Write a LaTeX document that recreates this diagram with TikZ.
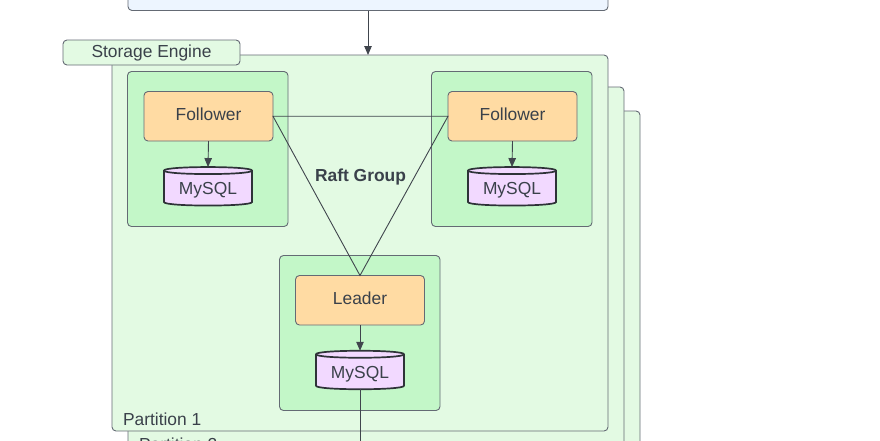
\documentclass[tikz,border=0pt]{standalone}
\usepackage{fontspec}
\setmainfont{Liberation Sans}
\usetikzlibrary{arrows.meta,calc}
\definecolor{txt}{HTML}{3A414A}
\definecolor{edge}{HTML}{646A74}
\definecolor{linec}{HTML}{40454D}
\definecolor{dbedge}{HTML}{2E3338}
\definecolor{topfill}{HTML}{EDF5FF}
\definecolor{partfill}{HTML}{E3FAE3}
\definecolor{boxfill}{HTML}{C3F7C8}
\definecolor{nodefill}{HTML}{FFDBA3}
\definecolor{dbfill}{HTML}{F2D9FF}
\newcommand\dbshape[1]{%
  \fill[dbfill] ($(#1.north west)+(0,3.5)$) -- ($(#1.south west)+(0,-3.5)$)
    .. controls +(0,4.67) and +(0,4.67) .. ($(#1.south east)+(0,-3.5)$)
    -- ($(#1.north east)+(0,3.5)$)
    .. controls +(0,-4.67) and +(0,-4.67) .. ($(#1.north west)+(0,3.5)$) -- cycle;
  \draw[dbline] ($(#1.north west)+(0,3.5)$) -- ($(#1.south west)+(0,-3.5)$)
    .. controls +(0,4.67) and +(0,4.67) .. ($(#1.south east)+(0,-3.5)$)
    -- ($(#1.north east)+(0,3.5)$)
    .. controls +(0,-4.67) and +(0,-4.67) .. ($(#1.north west)+(0,3.5)$) -- cycle;
  \draw[dbline] ($(#1.north west)+(0,3.5)$)
    .. controls +(0,4.67) and +(0,4.67) .. ($(#1.north east)+(0,3.5)$);
}
\begin{document}
\begin{tikzpicture}[x=1pt,y=-1pt,
  font=\fontsize{17.4}{20}\selectfont, text=txt,
  every node/.style={inner sep=0pt, outer sep=0pt, text height=12.5pt, text depth=4pt},
  frame/.style={draw=edge, line width=0.9pt, rounded corners=4pt, anchor=north west},
  topbox/.style={frame, fill=topfill, minimum width=480pt, minimum height=40pt},
  part/.style={frame, fill=partfill, minimum width=496pt},
  tab/.style={frame, fill=partfill, minimum width=177pt, minimum height=25pt},
  holder/.style={frame, fill=boxfill, minimum width=160.5pt, minimum height=155pt},
  role/.style={frame, fill=nodefill, minimum width=129pt, minimum height=49.5pt},
  dbnode/.style={minimum width=88pt, minimum height=38.5pt},
  dbline/.style={draw=dbedge, line width=1.7pt},
  arr/.style={draw=linec, line width=0.9pt, -{Triangle[length=9pt,width=7.5pt]}},
  link/.style={draw=linec, line width=0.9pt},
  lbl/.style={anchor=base west}]
\useasboundingbox (0,0) rectangle (880,440);
\clip (0,0) rectangle (880,440);

% top box
\node[topbox] (top) at (128,-29.5) {};

% stacked partitions
\node[part, minimum height=400pt] (p3) at (144,111) {};
\node[part, minimum height=400pt] (p2) at (128,87) {};
\node[lbl] (p2l) at (139,450) {Partition 2};
\node[part, minimum height=376pt] (p1) at (112,55) {};
\node[lbl] (p1l) at (123,425) {Partition 1};

% storage engine tab
\node[tab] (se) at (63,40) {};
\node (set) at ($(se.center)+(0,1)$) {Storage Engine};

% containers
\node[holder] (c1) at (127.5,71.5) {};
\node[holder] (c2) at (431.5,71.5) {};
\node[holder] (c3) at (279.5,255.5) {};

% roles
\node[role] (f1) at (144,91.5) {};
\node (f1t) at (f1.center) {Follower};
\node[role] (f2) at (448,91.5) {};
\node (f2t) at (f2.center) {Follower};
\node[role] (ld) at (295.5,275.5) {};
\node (ldt) at (ld.center) {Leader};

% databases
\node[dbnode] (m1) at (208,186.3) {};
\dbshape{m1}
\node (m1t) at ($(m1.center)+(0,4)$) {MySQL};
\node[dbnode] (m2) at (512,186.3) {};
\dbshape{m2}
\node (m2t) at ($(m2.center)+(0,4)$) {MySQL};
\node[dbnode] (m3) at (360,370) {};
\dbshape{m3}
\node (m3t) at ($(m3.center)+(0,4)$) {MySQL};

% raft group
\node[font=\fontsize{17.4}{20}\selectfont\bfseries] (rg) at (360.5,177.5) {Raft Group};
\draw[link] (f1.east) -- (f2.west) -- (ld.north) -- cycle;

% arrows
\draw[arr] (top.south) -- (top.south |- p1.north);
\draw[arr] (f1.south) -- (m1.north);
\draw[arr] (f2.south) -- (m2.north);
\draw[arr] (ld.south) -- (m3.north);
\coordinate (bot) at (360,450);
\draw[link] (m3.south) -- (bot);
\end{tikzpicture}
\end{document}
